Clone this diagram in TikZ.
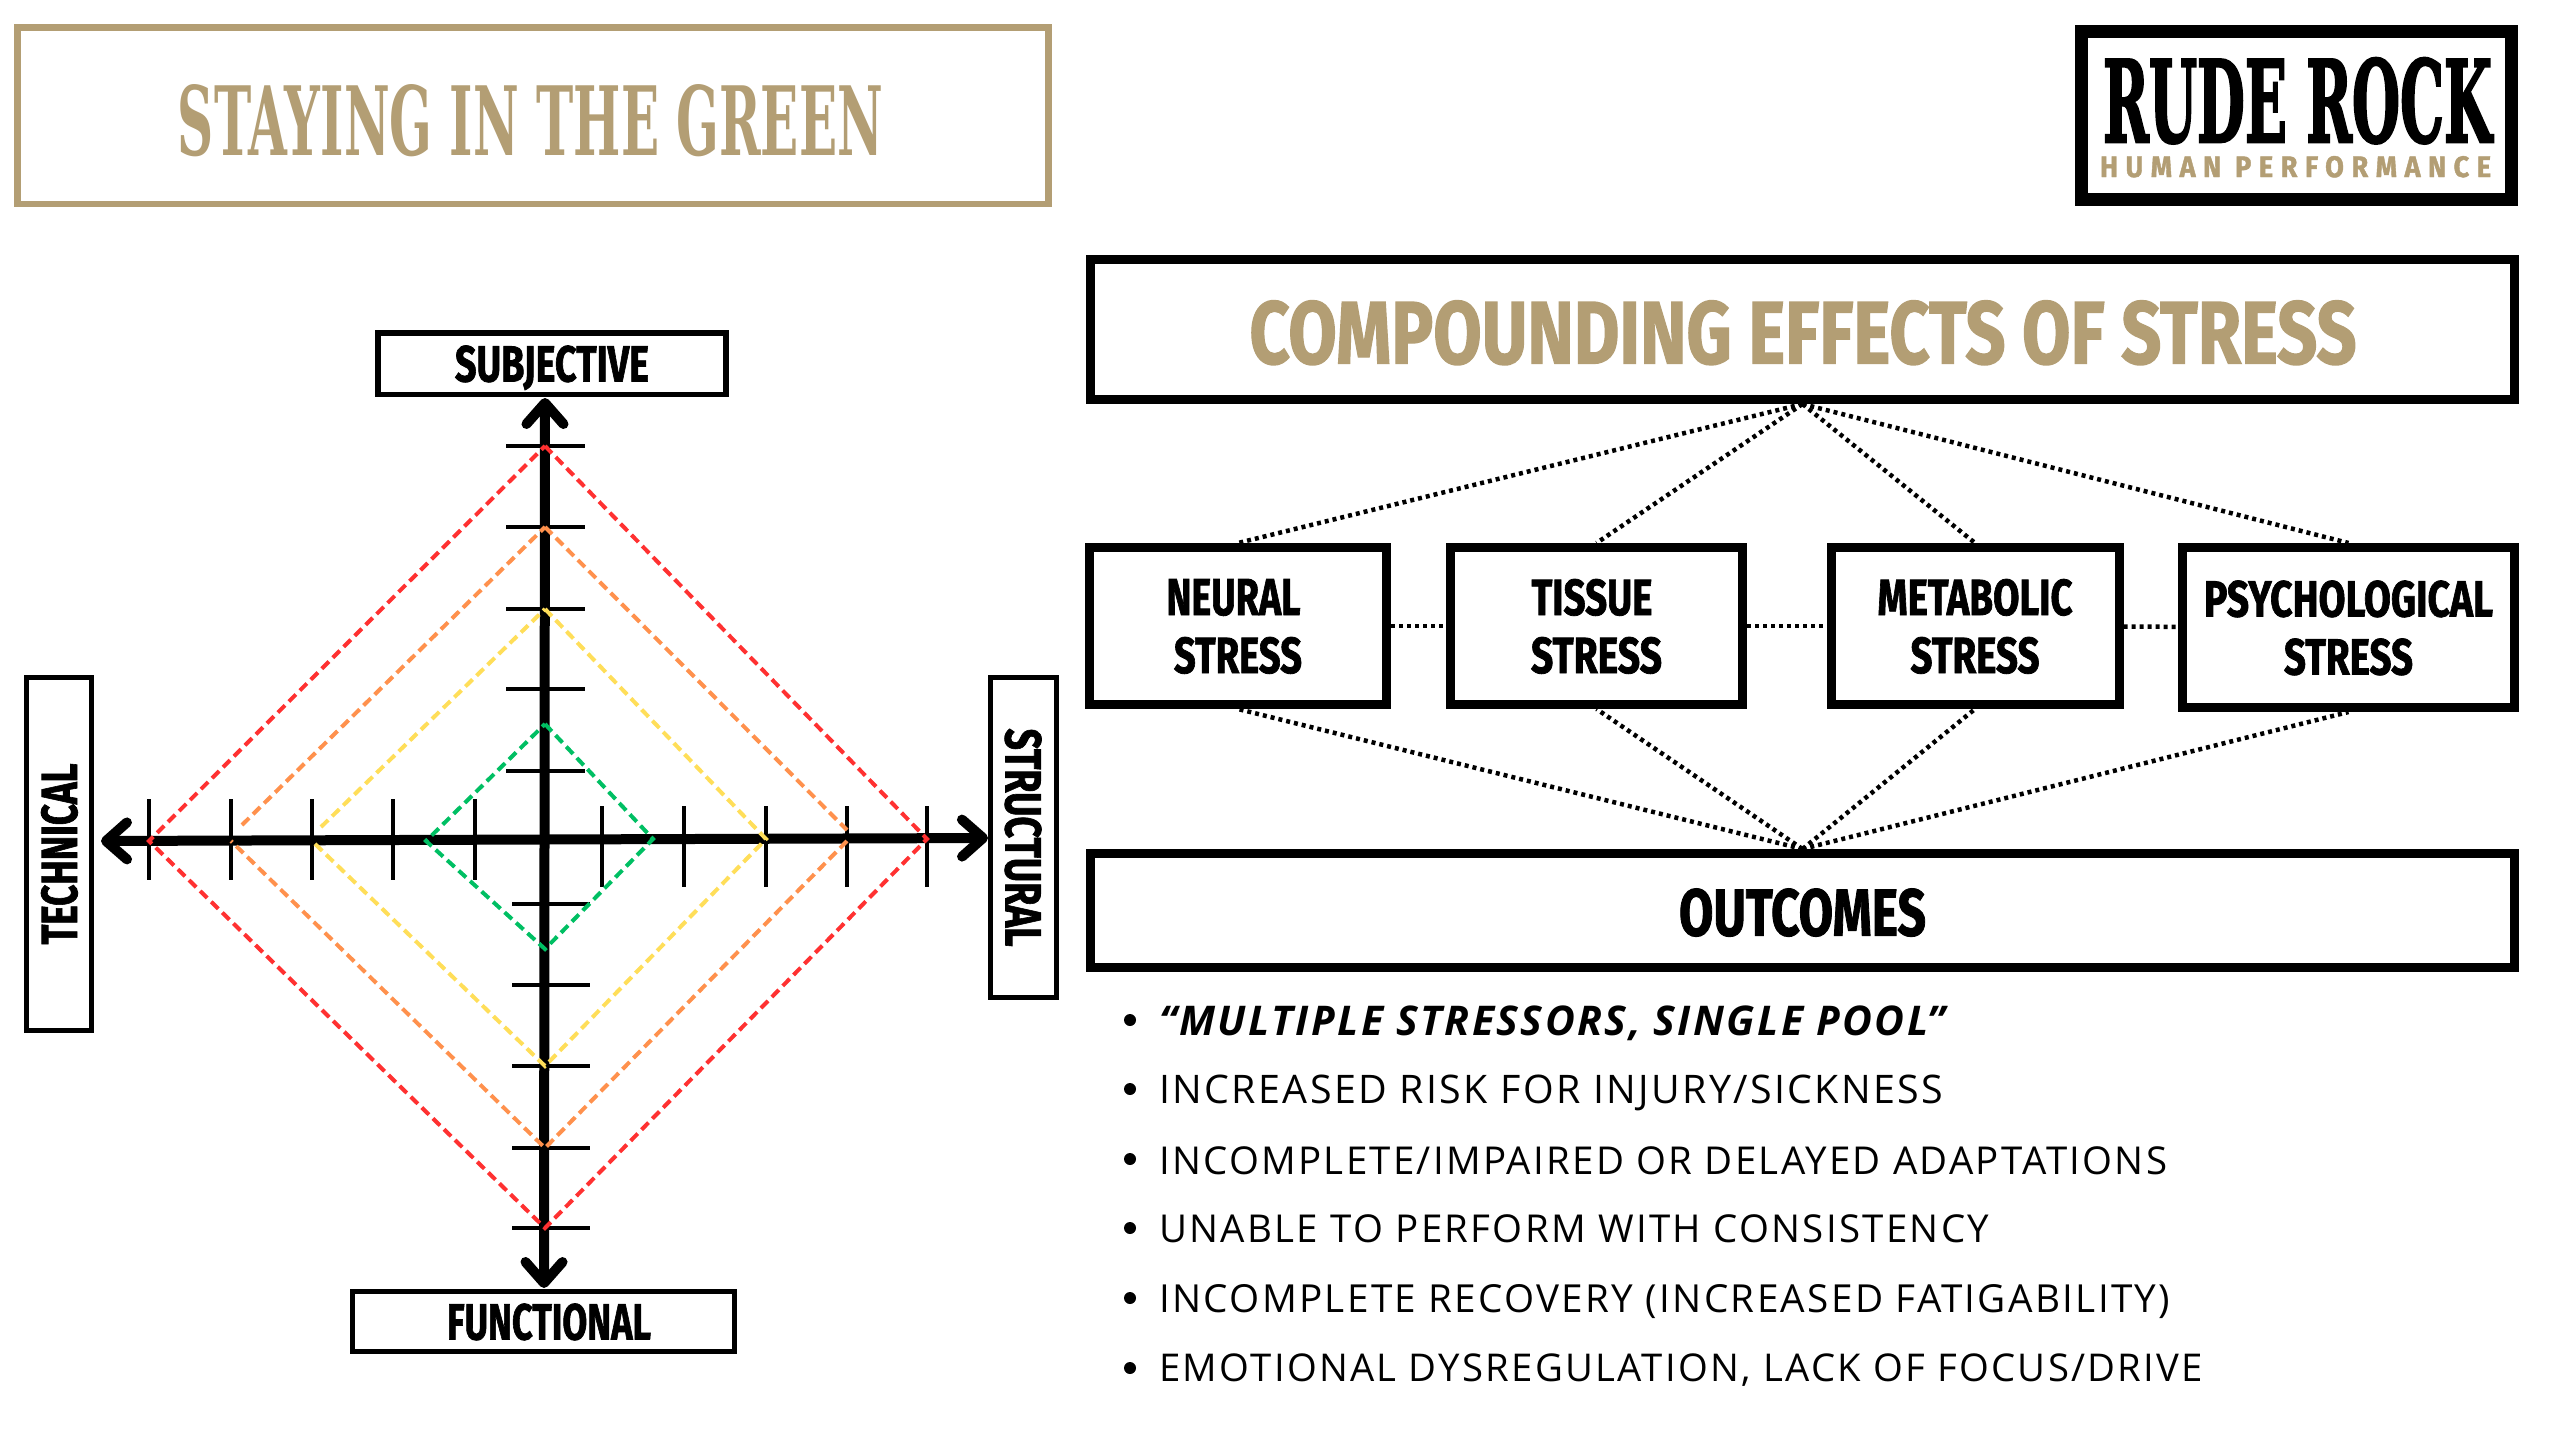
\documentclass[tikz,border=0pt]{standalone}
\usepackage{fontspec}
\usepackage{graphicx}
\usetikzlibrary{arrows.meta}
\newfontfamily\headf{Fira Sans Bold}[FakeBold=1.6]
\newfontfamily\logof{Fira Sans Bold}[FakeBold=1.5,LetterSpace=28]
\newfontfamily\slabf{DejaVu Serif Bold}
\newfontfamily\rockf{DejaVu Serif Bold}[FakeBold=2.5]
\newfontfamily\bodyf{Open Sans}[LetterSpace=6]
\definecolor{tan}{HTML}{B39E74}
\definecolor{dred}{HTML}{FF3131}
\definecolor{dorange}{HTML}{FF914D}
\definecolor{dyellow}{HTML}{FFDE59}
\definecolor{dgreen}{HTML}{00BF63}
\newcommand{\fitbox}[3]{\raisebox{0pt}[#2pt][0pt]{\resizebox{#1pt}{#2pt}{#3}}}
\newcommand{\hd}[3]{\fitbox{#1}{#2}{\fontsize{40}{48}\headf #3}}
\newcommand{\bd}[2]{\resizebox{#1pt}{!}{\fontsize{40}{48}\bodyf #2}}
\tikzset{
  box/.style={draw=black,fill=white,line width=#1,inner sep=0pt,align=center,font=\fontsize{40}{58}\selectfont},
  box/.default=9pt,
  axis/.style={line width=10pt,{Straight Barb[length=21pt,width=37pt,round]}-{Straight Barb[length=21pt,width=37pt,round]}},
  tick/.style={draw=black,line width=3.2pt},
  dia/.style={line width=4pt,dash pattern=on 10pt off 5.5pt},
  dots/.style={line width=4.5pt,dash pattern=on 4pt off 4pt},
  item/.style={anchor=base west,inner sep=0pt},
  bul/.style={circle,fill=black,inner sep=0pt,minimum size=12pt}
}
\begin{document}
\begin{tikzpicture}[x=1pt,y=-1pt]
\useasboundingbox (0,0) rectangle (2560,1440);
% title
\node[box=6.5pt,draw=tan,minimum width=1031pt,minimum height=176.5pt] (title) at (533,115.5) {};
\node[text=tan,inner sep=0pt] (titletext) at (530.5,119.5) {\fitbox{705}{71}{\fontsize{40}{48}\slabf STAYING IN THE GREEN}};
% logo
\node[box=13pt,minimum width=430pt,minimum height=168pt] (logo) at (2296.5,115.5) {};
\node[inner sep=0pt] (logo1) at (2297.5,100) {\fitbox{389}{84}{\fontsize{40}{48}\rockf RUDE ROCK}};
\node[inner sep=0pt,text=tan] (logo2) at (2295.5,166.5) {\fitbox{391}{21}{\fontsize{40}{48}\logof HUMAN PERFORMANCE}};
% stress boxes
\node[box,minimum width=1424pt,minimum height=140pt] (comp) at (1802.5,329.5) {};
\node[text=tan,inner sep=0pt] (comptext) at (1803,332) {\hd{1107}{63}{COMPOUNDING EFFECTS OF STRESS}};
\node[box,minimum width=297pt,minimum height=157pt] (neural) at (1238,626) {\hd{134}{36}{NEURAL}\hspace*{9pt}\\\hd{128}{36}{STRESS}};
\node[box,minimum width=292pt,minimum height=157pt] (tissue) at (1596.5,626) {\hd{121}{36}{TISSUE}\hspace*{9pt}\\\hd{131}{36}{STRESS}};
\node[box,minimum width=288pt,minimum height=157pt] (metabolic) at (1975,626) {\hd{195}{36}{METABOLIC}\\\hd{129}{36}{STRESS}};
\node[box,minimum width=332pt,minimum height=160pt] (psych) at (2348.5,627.5) {\hd{289}{36}{PSYCHOLOGICAL}\\\hd{129}{36}{STRESS}};
\node[box,minimum width=1424pt,minimum height=114pt] (out) at (1802.5,910.5) {\raisebox{0pt}[50pt][0pt]{\hd{247}{47}{OUTCOMES}}};
\foreach \n in {neural,tissue,metabolic,psych}{
  \draw[dots] (comp.south) -- (\n.north);
  \draw[dots] (out.north) -- (\n.south);
}
\draw[dots] (neural) -- (tissue);
\draw[dots] (tissue) -- (metabolic);
\draw[dots] (metabolic) -- (psych);
% list
\foreach \i/\y in {1/1020,2/1089,3/1159,4/1228,5/1298,6/1368}{
  \node[bul] (b\i) at (1130,\y) {};
}
\node[item] (l1) at (1159,1035) {\resizebox{786pt}{!}{\fontsize{40}{48}\bodyf\bfseries\itshape “MULTIPLE STRESSORS, SINGLE POOL”}};
\node[item] (l2) at (1159,1103) {\bd{784}{INCREASED RISK FOR INJURY/SICKNESS}};
\node[item] (l3) at (1159,1174) {\bd{1008}{INCOMPLETE/IMPAIRED OR DELAYED ADAPTATIONS}};
\node[item] (l4) at (1159,1242) {\bd{830}{UNABLE TO PERFORM WITH CONSISTENCY}};
\node[item] (l5) at (1159,1312) {\bd{1011}{INCOMPLETE RECOVERY (INCREASED FATIGABILITY)}};
\node[item] (l6) at (1159,1381) {\bd{1044}{EMOTIONAL DYSREGULATION, LACK OF FOCUS/DRIVE}};
% radar coordinates
\coordinate (N) at (545,398);
\coordinate (S) at (544,1288);
\coordinate (W) at (101,841);
\coordinate (E) at (988,838);
\foreach \x/\a/\b in {149/799/880,231/799/880,312/799/880,393/799/880,475/799/880,602/806/887,684/806/887,766/806/887,847/806/887,927/806/887}{
  \draw[tick] (\x,\a) -- (\x,\b);
}
\foreach \y in {446,527,609,689,771}{\draw[tick] (506,\y) -- (585,\y);}
\foreach \y in {904,985,1066,1148,1228}{\draw[tick] (512,\y) -- (590,\y);}
\draw[axis] (N) -- (S);
\draw[axis] (W) -- (E);
% diamonds
\draw[dia,dred] (545,446) -- (927,839) -- (545,1228) -- (149,841) -- cycle;
\draw[dia,dorange] (545,527) -- (847,830);
\draw[dia,dorange] (847,841) -- (545,1148) -- (231,841);
\draw[dia,dorange] (242,825) -- (545,527);
\draw[dia,dyellow] (545,609) -- (766,839) -- (545,1066) -- (312,841);
\draw[dia,dyellow] (321,827) -- (545,609);
\draw[dia,dgreen] (545,724) -- (653,839) -- (545,949) -- (426,841) -- cycle;
% axis labels
\node[box=5.5pt,minimum width=348pt,minimum height=61.5pt] (subj) at (552,363.5) {\hd{194}{36}{SUBJECTIVE}};
\node[box=5.5pt,minimum width=382pt,minimum height=60pt] (func) at (543.5,1321.5) {\hspace*{11pt}\hd{204}{36}{FUNCTIONAL}};
\node[box=5.5pt,minimum width=65pt,minimum height=353pt] (tech) at (59,854) {\rotatebox{90}{\hd{181}{36}{TECHNICAL}}};
\node[box=5.5pt,minimum width=66pt,minimum height=320pt] (struct) at (1023.5,837.5) {\rotatebox{-90}{\hd{218}{36}{STRUCTURAL}}};
\end{tikzpicture}
\end{document}
